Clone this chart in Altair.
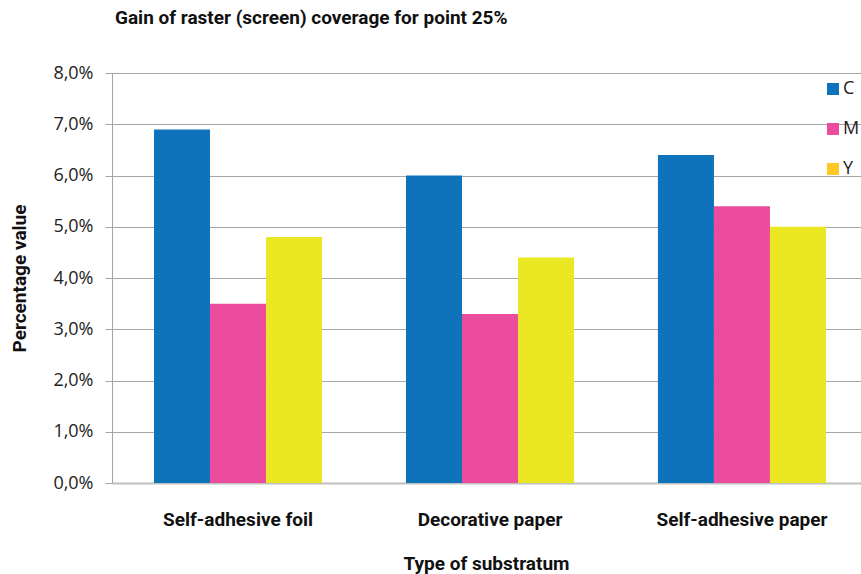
import altair as alt
import pandas as pd

categories = ["Self-adhesive foil", "Decorative paper", "Self-adhesive paper"]
series = ["C", "M", "Y"]
values_C = [6.9, 6.0, 6.4]
values_M = [3.5, 3.3, 5.4]
values_Y = [4.8, 4.4, 5.0]
bar_colors = ["#0E73BB", "#EC4C9D", "#EBE823"]
legend_colors = ["#0E73BB", "#EC4C9D", "#FFC823"]
y_ticks = [0, 1, 2, 3, 4, 5, 6, 7, 8]

rows = []
for s, vals in zip(series, [values_C, values_M, values_Y]):
    for c, v in zip(categories, vals):
        rows.append({"substratum": c, "ink": s, "key": s, "value": v})
df = pd.DataFrame(rows)

grid = "#A6A6A6"

x_enc = alt.X(
    "substratum:N", sort=categories, title="Type of substratum",
    scale=alt.Scale(paddingInner=0.333, paddingOuter=0.1667, range=[0, 756]),
    axis=alt.Axis(labelAngle=0, tickSize=0, labelPadding=27, titlePadding=25,
                  domainColor="#BFBFBF", domainWidth=2, titleX=374,
                  labelFont="Roboto", labelFontWeight="bold", labelFontSize=19, labelColor="#111",
                  titleFont="Roboto", titleFontWeight="bold", titleFontSize=19, titleColor="#111"),
)
xoff = alt.XOffset("ink:N", sort=series)
y_enc = alt.Y(
    "value:Q", title="Percentage value",
    scale=alt.Scale(domain=[0, 8], nice=False),
    axis=alt.Axis(values=y_ticks,
                  labelExpr="replace(format(datum.value, '.1f'), '.', ',') + '%'",
                  tickSize=7, tickColor=grid, domainColor=grid, gridColor=grid,
                  labelPadding=12, titlePadding=23,
                  labelFont="Open Sans", labelFontSize=18, labelColor="#222",
                  titleFont="Roboto", titleFontWeight="bold", titleFontSize=19, titleColor="#111"),
)

bars = alt.Chart(df).mark_bar().encode(
    x=x_enc, xOffset=xoff, y=y_enc,
    fill=alt.Fill("ink:N", scale=alt.Scale(domain=series, range=bar_colors), legend=None),
)

legend_layer = alt.Chart(df).mark_square(opacity=0, filled=True).encode(
    x=x_enc, xOffset=xoff, y=y_enc,
    color=alt.Color("key:N", scale=alt.Scale(domain=series, range=legend_colors),
                    legend=alt.Legend(orient="none", legendX=712, legendY=7, title=None,
                                      symbolType="square", symbolSize=144, symbolOpacity=1,
                                      symbolStrokeWidth=0,
                                      labelFont="Open Sans", labelFontSize=18, labelColor="#222",
                                      rowPadding=22, labelOffset=1)),
)

chart = alt.layer(bars, legend_layer).resolve_scale(color="independent", fill="independent").properties(
    width=749, height=410,
    autosize=alt.AutoSizeParams(type="none"),
    padding={"left": 112, "top": 73, "right": 0, "bottom": 91},
    title=alt.TitleParams("Gain of raster (screen) coverage for point 25%", anchor="start",
                          frame="group", dx=3, offset=36, font="Roboto", fontSize=19,
                          fontWeight="bold", color="#111"),
).configure_view(stroke=None).configure(background="white")

chart.save("out.html", embed_options={"renderer": "svg", "actions": False})
